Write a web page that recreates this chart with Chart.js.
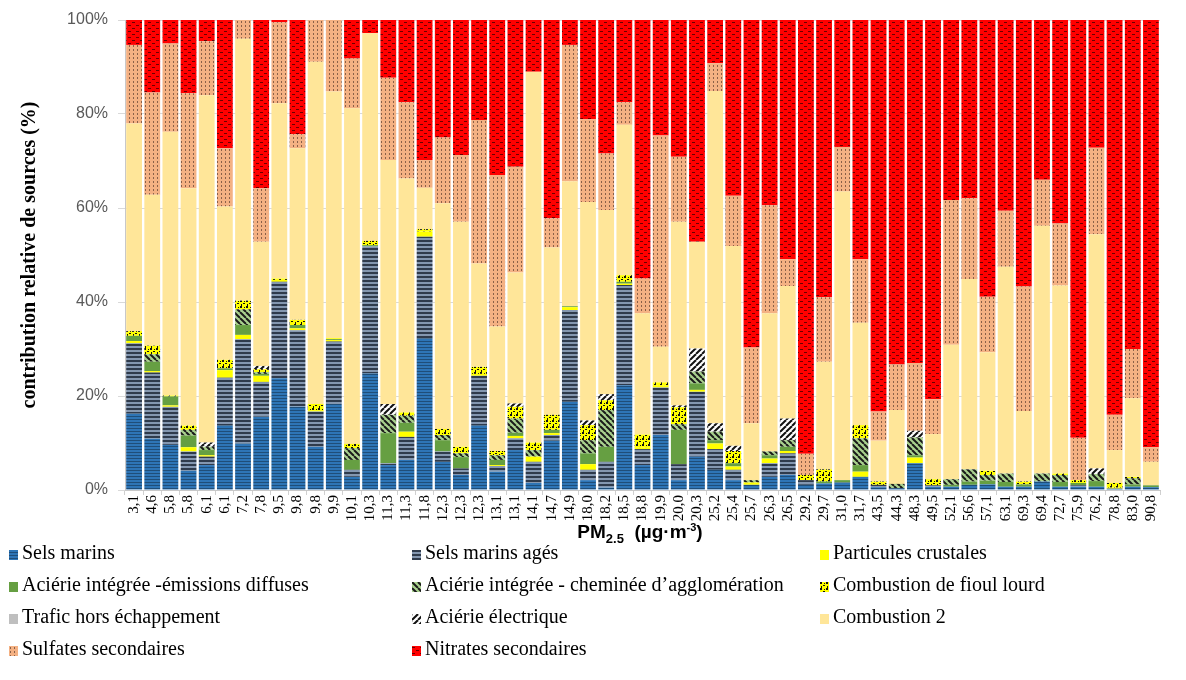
<!DOCTYPE html>
<html>
<head>
<meta charset="utf-8">
<script src="https://cdn.jsdelivr.net/npm/chart.js@4"></script>
<style>
  body { margin: 0; background: #fff; }
  #wrap { position: relative; width: 1186px; height: 680px; }
  #xtitle { position: absolute; left: 0; width: 1280px; top: 516px; text-align: center; line-height: 22px;
    font-family: 'Liberation Sans', sans-serif; font-weight: bold; font-size: 19px; color: #000; }
  #xtitle sub { font-size: 13px; }
  #xtitle sup { font-size: 11px; }
  .item { position: absolute; height: 24px; line-height: 24px; white-space: nowrap;
    font-family: 'Liberation Serif', serif; font-size: 20px; color: #000; }
  .mark { display: inline-block; width: 9px; height: 10px; margin-right: 4px; vertical-align: -1px; }
</style>
</head>
<body>
<div id="wrap">
  <canvas id="chart" width="1186" height="680"></canvas>
  <div id="xtitle">PM<sub>2.5</sub>&nbsp; (µg·m<sup>-3</sup>)</div>
</div>
<script>
'use strict';

let labels = ['3,1', '4,6', '5,8', '5,8', '6,1', '6,1', '7,2', '7,8', '9,5', '9,8', '9,8', '9,9', '10,1', '10,3', '11,3', '11,3', '11,8', '12,3', '12,3', '12,3', '13,1', '13,1', '14,1', '14,7', '14,9', '18,0', '18,2', '18,5', '18,8', '19,9', '20,0', '20,3', '25,2', '25,4', '25,7', '26,3', '26,5', '29,2', '29,7', '31,0', '31,7', '43,5', '44,3', '48,3', '49,5', '52,1', '56,6', '57,1', '63,1', '69,3', '69,4', '72,7', '75,9', '76,2', '78,8', '83,0', '90,8'];

let selsMarins = [16.3, 10.9, 9.6, 4.1, 5.3, 13.8, 9.9, 15.6, 23.8, 17.7, 9.2, 18.3, 2.8, 24.8, 5.3, 6.4, 32.3, 6.0, 3.2, 13.8, 3.9, 8.5, 1.5, 10.5, 18.8, 2.1, 0.5, 22.3, 5.3, 11.7, 2.1, 7.1, 4.3, 2.1, 1.1, 2.8, 3.2, 1.1, 1.4, 1.6, 2.8, 0.6, 0.4, 5.7, 0.7, 0.7, 1.1, 1.2, 0.7, 0.7, 1.8, 0.7, 0.7, 0.7, 0.3, 0.7, 0.6];
let selsAges = [14.9, 14.1, 8.1, 4.1, 1.8, 10.1, 22.2, 7.4, 20.5, 16.3, 7.5, 13.3, 1.5, 27.0, 0.4, 4.9, 21.6, 2.2, 1.4, 10.5, 1.2, 2.5, 4.5, 1.2, 19.5, 2.2, 5.5, 21.3, 3.4, 10.1, 3.4, 13.8, 4.4, 2.2, 0, 2.9, 4.6, 1.0, 0, 0, 0, 0.5, 0, 0, 0.3, 0, 0, 0, 0, 0, 0, 0, 0.3, 0, 0, 0, 0];
let crustales = [0.5, 0.3, 0.3, 0.9, 0.3, 1.6, 0.9, 1.3, 0.4, 0.4, 0.3, 0.3, 0, 0, 0, 1.1, 1.1, 0, 0, 0.4, 0.2, 0.5, 1.1, 0.4, 0.6, 1.2, 0, 0.3, 0.4, 0.5, 0, 0.4, 1.2, 0.7, 0.5, 1.0, 0.5, 0, 0, 0, 1.1, 0, 0, 1.2, 0, 0, 0, 0, 0, 0, 0, 0, 0, 0, 0.2, 0, 0];
let acierieDiffuses = [1.1, 2.0, 1.9, 2.5, 1.1, 0.4, 2.1, 0.4, 0, 0.7, 0, 0.2, 2.1, 0.3, 6.4, 1.9, 0, 2.4, 2.4, 0, 1.1, 0.7, 0, 0.7, 0.2, 2.3, 3.2, 0.4, 0, 0, 7.3, 1.4, 0.7, 0.7, 0, 0.7, 0.9, 0, 0.4, 0.5, 1.4, 0, 0, 0.5, 0, 0.4, 0.7, 0.8, 1.0, 0.5, 0, 1.0, 0.5, 1.2, 0, 0.5, 0.4];
let acierieCheminee = [0, 1.6, 0, 1.2, 0.7, 0, 3.3, 0.4, 0, 0, 0, 0, 2.5, 0, 3.9, 1.5, 0, 1.1, 0.8, 0, 1.0, 3.0, 1.4, 0, 0, 2.8, 7.8, 0, 0, 0, 1.2, 2.5, 1.8, 0, 0.5, 0.8, 1.4, 0, 0, 0, 5.7, 0, 0.9, 3.8, 0, 1.2, 2.6, 1.2, 1.8, 0, 1.7, 1.5, 0, 1.5, 0, 1.3, 0];
let fioulLourd = [1.0, 1.8, 0.2, 0.9, 0, 1.8, 1.9, 0.6, 0.3, 1.1, 1.3, 0.2, 0.9, 0.9, 0, 0.7, 0.5, 1.3, 1.4, 1.5, 0.9, 2.5, 1.6, 3.2, 0, 3.2, 2.1, 1.4, 2.7, 0.6, 3.6, 0, 0, 2.6, 0, 0, 0, 1.1, 2.6, 0, 2.8, 0.7, 0, 0, 1.3, 0, 0, 0.9, 0, 0.6, 0, 0.3, 0.6, 0, 1.0, 0.3, 0];
let trafic = [0, 0, 0, 0, 0, 0, 0, 0, 0, 0, 0, 0, 0, 0, 0, 0, 0, 0, 0, 0, 0, 0, 0, 0, 0, 0, 0, 0, 0, 0, 0, 0, 0, 0, 0, 0, 0, 0, 0, 0, 0, 0, 0, 0, 0, 0, 0, 0, 0, 0, 0, 0, 0, 0, 0, 0, 0];
let acierieElec = [0, 0, 0, 0, 0.9, 0, 0, 0.7, 0, 0, 0, 0, 0, 0, 2.3, 0, 0, 0, 0, 0, 0, 0.7, 0, 0, 0, 1.0, 1.3, 0, 0, 0, 0.4, 4.9, 1.8, 1.1, 0, 0, 4.6, 0, 0, 0, 0, 0, 0, 1.4, 0, 0, 0, 0, 0, 0, 0, 0, 0, 1.2, 0, 0, 0];
let combustion2 = [44.2, 32.1, 56.1, 50.5, 73.9, 32.6, 55.7, 26.4, 37.3, 36.5, 72.8, 52.5, 71.4, 44.2, 51.9, 49.8, 8.8, 48.0, 47.9, 22.0, 26.5, 27.9, 78.9, 35.6, 26.6, 46.5, 39.2, 32.0, 25.8, 7.6, 39.1, 22.7, 70.7, 42.5, 12.1, 29.4, 28.2, 0, 22.9, 61.4, 21.8, 8.7, 15.7, 0, 9.6, 28.6, 40.5, 25.2, 44.0, 15.0, 52.7, 40.0, 0, 49.8, 7.0, 16.7, 5.0];
let sulfates = [16.7, 21.8, 18.8, 20.2, 11.5, 12.4, 4.0, 11.4, 17.2, 3.0, 8.9, 15.2, 10.6, 0, 17.5, 16.2, 5.9, 14.0, 14.2, 30.5, 32.2, 22.5, 0, 6.2, 29.0, 17.6, 12.0, 4.8, 7.4, 44.9, 13.8, 0, 5.9, 10.7, 16.1, 23.0, 5.7, 4.5, 13.7, 9.5, 13.5, 6.2, 9.7, 14.4, 7.4, 30.8, 17.2, 11.8, 11.9, 26.5, 9.8, 13.2, 9.0, 18.4, 7.5, 10.5, 3.1];
let nitrates = [5.3, 15.4, 5.0, 15.6, 4.5, 27.3, 0, 35.8, 0.5, 24.3, 0, 0, 8.2, 2.8, 12.3, 17.5, 29.8, 25.0, 28.7, 21.3, 33.0, 31.2, 11.0, 42.2, 5.3, 21.1, 28.4, 17.5, 55.0, 24.6, 29.1, 47.2, 9.2, 37.4, 69.7, 39.4, 50.9, 92.3, 59.0, 27.0, 50.9, 83.3, 73.3, 73.0, 80.7, 38.3, 37.9, 58.9, 40.6, 56.7, 34.0, 43.3, 88.9, 27.2, 84.0, 70.0, 90.9];

let yTicks = [0, 20, 40, 60, 80, 100];

// small tiles used as fill patterns
function tile( w, h, draw ) {
  let c = document.createElement( 'canvas' );
  c.width = w;
  c.height = h;
  draw( c.getContext( '2d' ) );
  return c;
}

function plain( color ) {
  return tile( 4, 4, g => { g.fillStyle = color; g.fillRect( 0, 0, 4, 4 ); } );
}

const tiles = {
  sm: tile( 4, 3, g => {
    g.fillStyle = '#2E75B6'; g.fillRect( 0, 0, 4, 3 );
    g.fillStyle = '#1F4E79'; g.fillRect( 0, 2, 4, 1 );
  } ),
  sma: tile( 4, 4, g => {
    g.fillStyle = '#8497B0'; g.fillRect( 0, 0, 4, 4 );
    g.fillStyle = '#2F3B4C'; g.fillRect( 0, 0, 4, 2 );
  } ),
  pc: plain( '#FFFF00' ),
  aid: plain( '#669F42' ),
  aic: tile( 6, 6, g => {
    g.fillStyle = '#A9D18E'; g.fillRect( 0, 0, 6, 6 );
    g.strokeStyle = '#1a1a1a'; g.lineWidth = 2;
    for ( let x = -6; x <= 6; x += 6 ) {
      g.beginPath(); g.moveTo( x, 0 ); g.lineTo( x + 6, 6 ); g.stroke();
    }
  } ),
  cfl: tile( 6, 6, g => {
    g.fillStyle = '#FFFF00'; g.fillRect( 0, 0, 6, 6 );
    g.fillStyle = '#111';
    g.fillRect( 0, 0, 2, 2 ); g.fillRect( 3, 3, 2, 1 ); g.fillRect( 4, 1, 1, 1 ); g.fillRect( 1, 4, 1, 2 );
  } ),
  tr: plain( '#BFBFBF' ),
  ae: tile( 6, 6, g => {
    g.fillStyle = '#FFFFFF'; g.fillRect( 0, 0, 6, 6 );
    g.strokeStyle = '#111'; g.lineWidth = 2;
    for ( let x = -6; x <= 6; x += 6 ) {
      g.beginPath(); g.moveTo( x, 6 ); g.lineTo( x + 6, 0 ); g.stroke();
    }
  } ),
  c2: plain( '#FFE699' ),
  ss: tile( 4, 4, g => {
    g.fillStyle = '#F4B183'; g.fillRect( 0, 0, 4, 4 );
    g.fillStyle = '#8A6048'; g.fillRect( 1, 1, 1, 2 );
  } ),
  ns: tile( 8, 6, g => {
    g.fillStyle = '#FF0000'; g.fillRect( 0, 0, 8, 6 );
    g.fillStyle = '#6a0000'; g.fillRect( 0, 1, 3, 1 ); g.fillRect( 4, 4, 3, 1 );
  } )
};

const canvas = document.getElementById( 'chart' );
const ctx = canvas.getContext( '2d' );

function fill( key ) {
  return ctx.createPattern( tiles[key], 'repeat' );
}

let series = [
  { label: 'Sels marins', data: selsMarins, key: 'sm' },
  { label: 'Sels marins agés', data: selsAges, key: 'sma' },
  { label: 'Particules crustales', data: crustales, key: 'pc' },
  { label: 'Aciérie intégrée -émissions diffuses', data: acierieDiffuses, key: 'aid' },
  { label: 'Aciérie intégrée - cheminée d’agglomération', data: acierieCheminee, key: 'aic' },
  { label: 'Combustion de fioul lourd', data: fioulLourd, key: 'cfl' },
  { label: 'Trafic hors échappement', data: trafic, key: 'tr' },
  { label: 'Aciérie électrique', data: acierieElec, key: 'ae' },
  { label: 'Combustion 2', data: combustion2, key: 'c2' },
  { label: 'Sulfates secondaires', data: sulfates, key: 'ss' },
  { label: 'Nitrates secondaires', data: nitrates, key: 'ns' }
];

let datasets = series.map( s => ( {
  label: s.label,
  data: s.data,
  backgroundColor: fill( s.key ),
  borderWidth: 0,
  barPercentage: 0.87,
  categoryPercentage: 1.0
} ) );

new Chart( ctx, {
  type: 'bar',
  data: { labels: labels, datasets: datasets },
  options: {
    responsive: false,
    animation: false,
    layout: { padding: { left: 18, right: 26, top: 20, bottom: 0 } },
    plugins: { legend: { display: false }, tooltip: { enabled: false } },
    scales: {
      x: {
        stacked: true,
        grid: { drawOnChartArea: false, offset: true, tickLength: 5, color: '#d0d0d0' },
        border: { color: '#c8c8c8' },
        ticks: {
          autoSkip: false, minRotation: 90, maxRotation: 90, padding: 0,
          color: '#000', font: { family: 'Liberation Serif', size: 15 }
        },
        afterFit: s => { s.height = 190; }
      },
      y: {
        stacked: true,
        min: 0,
        max: 100,
        afterBuildTicks: s => { s.ticks = yTicks.map( v => ( { value: v } ) ); },
        ticks: {
          callback: v => v + '%', padding: 10,
          color: '#595959', font: { family: 'Liberation Sans', size: 16 }
        },
        grid: { color: '#d9d9d9', tickLength: 7 },
        border: { color: '#c8c8c8' },
        title: {
          display: true, text: 'contribution relative de sources (%)', padding: 0,
          color: '#000', font: { family: 'Liberation Serif', size: 20, weight: 'bold' }
        },
        afterFit: s => { s.width = 107; }
      }
    }
  }
} );

// legend: 3 columns, 4 rows, under the axis title
const wrap = document.getElementById( 'wrap' );
let colX = [9, 412, 820];
let rowY = [540, 572, 604, 636];
for ( let i = 0; i < series.length; i++ ) {
  let item = document.createElement( 'div' );
  item.className = 'item';
  item.style.left = colX[i % 3] + 'px';
  item.style.top = rowY[Math.floor( i / 3 )] + 'px';
  let mark = document.createElement( 'span' );
  mark.className = 'mark';
  mark.style.backgroundImage = 'url(' + tiles[series[i].key].toDataURL() + ')';
  item.appendChild( mark );
  item.appendChild( document.createTextNode( series[i].label ) );
  wrap.appendChild( item );
}
</script>
</body>
</html>
